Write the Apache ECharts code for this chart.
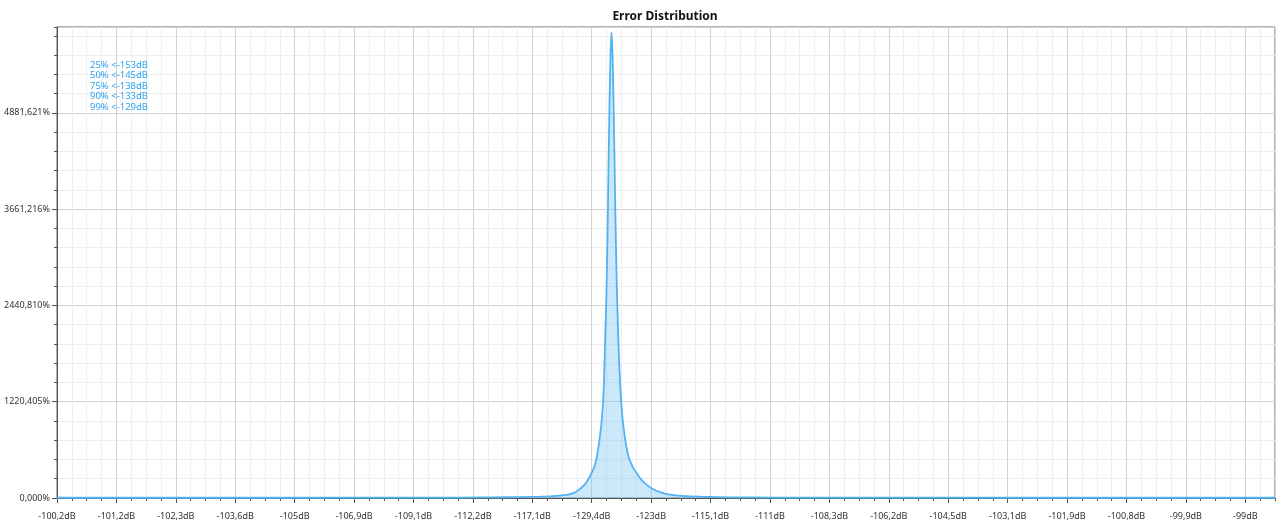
<!DOCTYPE html>
<html>
<head>
<meta charset="utf-8">
<script src="https://cdn.jsdelivr.net/npm/echarts@6/dist/echarts.min.js"></script>
<style>
html,body{margin:0;padding:0;background:#fff;}
#chart{width:1280px;height:527px;}
</style>
</head>
<body>
<div id="chart"></div>
<script>
// Tick labels along the x axis (one per major tick, positions 0..20)
const xTickLabels = ['-100,2dB','-101,2dB','-102,3dB','-103,6dB','-105dB','-106,9dB','-109,1dB','-112,2dB','-117,1dB','-129,4dB','-123dB','-115,1dB','-111dB','-108,3dB','-106,2dB','-104,5dB','-103,1dB','-101,9dB','-100,8dB','-99,9dB','-99dB'];
// Tick labels along the y axis
const yTickLabels = ['0,000%','1220,405%','2440,810%','3661,216%','4881,621%'];
const yStep = 1220.40525;
// Percentile annotations
const percentiles = ['25% <-153dB','50% <-145dB','75% <-138dB','90% <-133dB','99% <-129dB'];
// Curve samples: position on the x axis (tick-index units) and error share in %
const xPos = [0, 3, 5, 5.965, 6.807, 7.312, 7.817, 8.154, 8.406, 8.574, 8.692, 8.776, 8.861, 8.928, 8.985, 9.046, 9.086, 9.130, 9.164, 9.197, 9.226, 9.248, 9.265, 9.281, 9.298, 9.315, 9.332, 9.349, 9.366, 9.383, 9.399, 9.423, 9.450, 9.478, 9.517, 9.563, 9.618, 9.686, 9.760, 9.837, 9.938, 10.034, 10.174, 10.320, 10.510, 10.830, 11.352, 12.026, 13.036, 15, 18, 20.5];
const errorPct = [3, 3, 4, 5, 6, 8, 12, 17, 26, 40, 62, 100, 155, 220, 300, 400, 520, 735, 950, 1300, 2000, 2600, 3300, 4100, 4950, 5600, 5900, 5650, 5050, 4300, 3550, 2650, 1950, 1450, 1020, 740, 530, 400, 310, 230, 160, 110, 68, 42, 27, 16, 9, 6, 5, 4, 3, 3];

const xMax = 20.5;
const yMax = 5969;
const FONT = '"Noto Sans", "Open Sans", sans-serif';

const chart = echarts.init(document.getElementById('chart'));
const seriesData = xPos.map((x, i) => [x, errorPct[i]]);

chart.setOption({
  animation: false,
  backgroundColor: '#ffffff',
  title: {
    text: 'Error Distribution',
    left: 660,
    textAlign: 'center',
    top: 6,
    textStyle: { fontFamily: FONT, fontSize: 12, fontWeight: 'bold', color: '#111' }
  },
  grid: {
    left: 57, right: 5, top: 27, bottom: 29,
    show: true, borderColor: '#666', borderWidth: 1, backgroundColor: 'transparent'
  },
  graphic: [{
    type: 'text',
    left: 90,
    top: 60,
    z: 100,
    zlevel: 0,
    style: {
      text: percentiles.join('\n'),
      font: '9.5px ' + FONT,
      lineHeight: 10.4,
      fill: '#2fa2f0'
    }
  }],
  xAxis: [
    {
      type: 'value', position: 'bottom', offset: 4,
      min: 0, max: xMax, interval: 0.25,
      axisLine: { show: true, lineStyle: { color: '#555', width: 1 } },
      axisTick: { show: true, length: 3, lineStyle: { color: '#555' } },
      axisLabel: { show: false },
      splitLine: { show: true, lineStyle: { color: '#eeeeee', width: 1 } }
    },
    {
      type: 'value', position: 'bottom', offset: 4,
      min: 0, max: xMax, interval: 1,
      axisLine: { show: false },
      axisTick: { show: true, length: 5, lineStyle: { color: '#555' } },
      axisLabel: {
        show: true, margin: 10, fontFamily: FONT, fontSize: 9, color: '#333',
        showMaxLabel: false,
        formatter: (v) => {
          const i = Math.round(v);
          return Math.abs(v - i) < 1e-6 && xTickLabels[i] !== undefined ? xTickLabels[i] : '';
        }
      },
      splitLine: { show: true, lineStyle: { color: '#d2d2d2', width: 1 } }
    }
  ],
  yAxis: [
    {
      type: 'value', position: 'left',
      min: 0, max: yMax, interval: yStep / 5,
      axisLine: { show: true, lineStyle: { color: '#555', width: 1 } },
      axisTick: { show: true, length: 3, lineStyle: { color: '#555' } },
      axisLabel: { show: false },
      splitLine: { show: true, lineStyle: { color: '#eeeeee', width: 1 } }
    },
    {
      type: 'value', position: 'left',
      min: 0, max: yMax, interval: yStep,
      axisLine: { show: false },
      axisTick: { show: true, length: 5, lineStyle: { color: '#555' } },
      axisLabel: {
        show: true, margin: 7, fontFamily: FONT, fontSize: 9, color: '#333',
        showMaxLabel: false,
        formatter: (v) => {
          const i = Math.round(v / yStep);
          return Math.abs(v - i * yStep) < 1e-3 && yTickLabels[i] !== undefined ? yTickLabels[i] : '';
        }
      },
      splitLine: { show: true, lineStyle: { color: '#d2d2d2', width: 1 } }
    }
  ],
  series: [{
    type: 'line',
    xAxisIndex: 0,
    yAxisIndex: 0,
    data: seriesData,
    showSymbol: false,
    smooth: 0.25,
    lineStyle: { color: '#52b3f2', width: 1.8 },
    areaStyle: { color: 'rgba(110,190,245,0.5)' },
    z: 5
  }]
});
</script>
</body>
</html>
